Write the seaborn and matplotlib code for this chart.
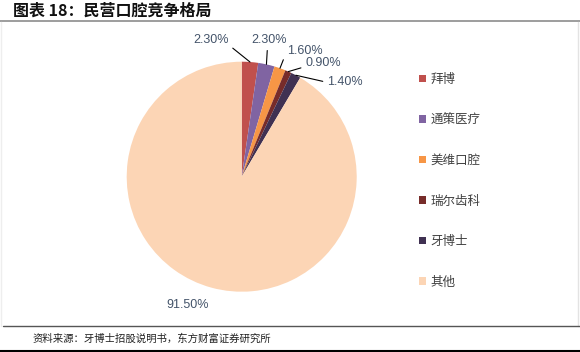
import numpy as np
import matplotlib.pyplot as plt
import seaborn as sns

# data
companies = ["拜博", "通策医疗", "美维口腔", "瑞尔齿科", "牙博士", "其他"]
shares = [2.3, 2.3, 1.6, 0.9, 1.4, 91.5]
share_labels = ["2.30%", "2.30%", "1.60%", "0.90%", "1.40%", "91.50%"]
colors = ["#C0504D", "#8064A2", "#F79646", "#772C2A", "#403152", "#FCD5B5"]

title = "图表 18：民营口腔竞争格局"
source = "资料来源：牙博士招股说明书，东方财富证券研究所"

# label placement (data units of the pie axes) and leader anchor on the text
label_pos = [(-0.27, 1.19), (0.24, 1.19), (0.55, 1.09), (0.71, 0.99), (0.90, 0.82), (-0.47, -1.12)]
leader_relpos = [(1.0, 0.1), (0.45, 0.0), (-0.08, 0.0), (-0.05, 0.15), (0.0, 0.5), None]

W, H = 580, 352


def main():
    sns.set_theme(style="white")
    plt.rcParams["font.family"] = ["Noto Sans CJK SC", "DejaVu Sans"]

    fig = plt.figure(figsize=(W / 100, H / 100), dpi=100)
    fig.patch.set_facecolor("white")

    # pie axes: centre (241.7, 176.7) px, radius 115 px
    cx, cy, r = 241.7, 176.7, 115
    ax = fig.add_axes([(cx - r) / W, (H - cy - r) / H, 2 * r / W, 2 * r / H])
    wedges, _ = ax.pie(shares, colors=colors, startangle=90, counterclock=False,
                       radius=1, wedgeprops=dict(linewidth=0))
    ax.set_xlim(-1, 1)
    ax.set_ylim(-1, 1)
    ax.set_aspect("equal")
    ax.axis("off")

    # labels with leader lines
    for w, lab, pos, rel in zip(wedges, share_labels, label_pos, leader_relpos):
        mid = np.deg2rad((w.theta1 + w.theta2) / 2)
        edge = (np.cos(mid), np.sin(mid))
        if rel is None:
            ax.text(pos[0], pos[1], lab, ha="center", va="center", fontsize=9,
                    color="#44546A", family=["Liberation Sans"])
        else:
            ax.annotate(lab, xy=edge, xytext=pos, ha="center", va="center",
                        fontsize=9, color="#44546A", family=["Liberation Sans"],
                        annotation_clip=False,
                        arrowprops=dict(arrowstyle="-", color="black", lw=0.8,
                                        relpos=rel, shrinkA=1, shrinkB=0))

    # legend
    leg = fig.legend(wedges, companies, loc="upper left",
                     bbox_to_anchor=(419 / W, 1 - 73 / H), frameon=False,
                     fontsize=9, handlelength=0.55, handleheight=0.55,
                     handletextpad=0.35, labelspacing=2.2, borderpad=0,
                     borderaxespad=0)
    for t in leg.get_texts():
        t.set_color("#404040")

    # title, frame lines, source
    fig.text(13 / W, 1 - 11 / H, title, fontsize=11.5, fontweight="bold",
             va="center", ha="left", color="#111111")
    fig.add_artist(plt.Line2D([0, 1], [1 - 21 / H, 1 - 21 / H], color="#8C8C8C", lw=1.2))
    fig.add_artist(plt.Line2D([578 / W, 578 / W], [1 - 22 / H, 1 - 326 / H], color="#E3E3E3", lw=1))
    fig.add_artist(plt.Line2D([1 / W, 1 / W], [1 - 22 / H, 1 - 326 / H], color="#EEEEEE", lw=1))
    fig.add_artist(plt.Line2D([3 / W, 1], [1 - 326 / H, 1 - 326 / H], color="#555555", lw=1))
    fig.text(33 / W, 1 - 339 / H, source, fontsize=7.5, va="center", ha="left", color="#222222")
    fig.add_artist(plt.Line2D([0, 1], [1 - 350.5 / H, 1 - 350.5 / H], color="black", lw=1.5))

    fig.savefig("out.png", dpi=100, facecolor="white")


if __name__ == "__main__":
    main()
